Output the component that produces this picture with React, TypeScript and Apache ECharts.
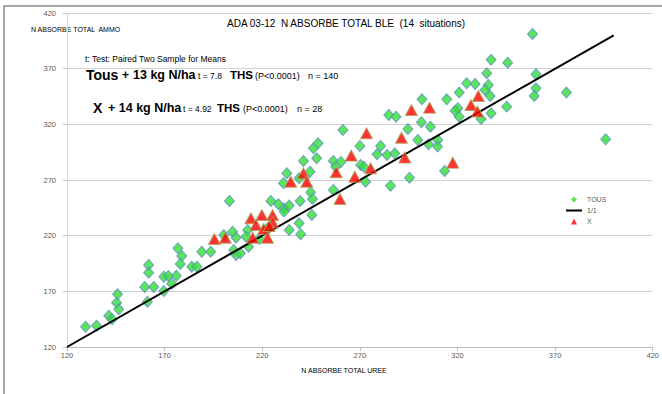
import React, { useEffect, useRef } from "react";
import * as echarts from "echarts";

// Axis ticks (N absorbé total, kg N/ha)
const xTicks = [120, 170, 220, 270, 320, 370, 420];
const yTicks = [120, 170, 220, 270, 320, 370, 420];

// TOUS situations: [N absorbé UREE, N absorbé AMMO]
const tous: [number, number][] = [
  [129.5, 138.2], [135.1, 139.1], [141.4, 148.1], [143.1, 144.9], [145.4, 159.8],
  [146.5, 153.9], [145.9, 167.3], [159.8, 173.9], [164.4, 173.9], [161.2, 160.7],
  [161.8, 193.7], [161.8, 186.8], [169.6, 183.2], [171.9, 183.8], [176.0, 184.1],
  [173.6, 176.9], [169.6, 170.3], [176.8, 208.7], [178.8, 201.8], [178.0, 194.6],
  [183.9, 192.1], [186.5, 192.1], [189.0, 205.6], [193.6, 205.6], [203.2, 251.2],
  [200.3, 220.6], [204.8, 223.6], [206.6, 218.2], [205.4, 207.2], [206.6, 202.7],
  [208.8, 204.2], [213.0, 210.1], [212.5, 225.1], [211.7, 219.1], [218.5, 217.0],
  [224.4, 251.2], [228.3, 248.2], [231.2, 244.6], [233.8, 247.0], [231.2, 241.6],
  [222.7, 226.6], [233.8, 225.1], [238.9, 231.1], [239.7, 221.3], [239.4, 251.2],
  [244.8, 259.0], [245.7, 253.0], [245.4, 238.6], [230.9, 267.1], [232.6, 276.1],
  [238.9, 271.6], [244.5, 277.5], [241.1, 287.1], [247.9, 289.5], [246.2, 298.5],
  [248.6, 303.0], [256.4, 287.1], [256.4, 261.1], [284.8, 328.4], [288.5, 326.9],
  [301.8, 342.5], [314.5, 342.5], [320.9, 348.5], [324.7, 356.9], [320.2, 334.5],
  [318.8, 332.3], [320.9, 326.9], [301.5, 321.9], [306.1, 317.9], [294.6, 315.9],
  [261.3, 315.0], [299.7, 306.0], [305.2, 302.1], [309.9, 306.0], [309.8, 300.0],
  [270.0, 300.6], [280.6, 300.6], [278.8, 293.1], [283.9, 292.5], [287.9, 294.0],
  [260.3, 286.2], [257.6, 282.0], [270.4, 283.5], [272.0, 282.0], [272.9, 268.5],
  [285.7, 264.9], [295.4, 272.1], [313.4, 278.1], [358.4, 401.2], [337.2, 377.9],
  [345.7, 375.4], [335.0, 365.9], [360.2, 365.0], [329.0, 356.3], [335.8, 355.4],
  [334.1, 350.9], [336.7, 345.5], [360.2, 352.4], [359.3, 345.5], [375.8, 348.5],
  [332.1, 324.9], [337.2, 330.0], [345.2, 335.9], [395.9, 306.6],
];

// X situations
const xSituations: [number, number][] = [
  [195.5, 217.0], [201.1, 218.2], [214.2, 235.6], [219.8, 238.6], [225.3, 238.6],
  [225.3, 232.0], [216.8, 229.6], [220.7, 226.0], [215.1, 218.2], [222.7, 218.2],
  [223.6, 228.7], [234.6, 268.5], [241.1, 276.1], [242.8, 268.5], [273.4, 312.0],
  [265.6, 291.9], [257.9, 277.0], [267.4, 273.0], [275.5, 280.6], [259.8, 253.0],
  [291.3, 308.0], [293.0, 290.1], [296.4, 332.9], [305.7, 335.0], [317.6, 285.6],
  [326.9, 337.4], [330.7, 345.5], [330.2, 331.6],
];

// 1/1 line
const oneToOne: [number, number][] = [[120, 120], [400, 400]];

const FONT = "'Liberation Sans', Arial, sans-serif";
const GREEN = "#33dd33";
const RED = "#ff0000";

export default function App() {
  const ref = useRef<HTMLDivElement>(null);

  useEffect(() => {
    if (!ref.current) return;
    const chart = echarts.init(ref.current, undefined, { renderer: "svg" });

    const txt = (x: number, y: number, text: string, size: number, bold = false, extra: any = {}) => ({
      type: "text",
      x,
      y,
      style: {
        text,
        fontSize: size,
        fontWeight: bold ? "bold" : "normal",
        fontFamily: FONT,
        fill: "#000",
        verticalAlign: "middle",
        align: "left",
        ...extra,
      },
      silent: true,
    });

    chart.setOption({
      animation: false,
      backgroundColor: "#fff",
      grid: { left: 67, right: 7, top: 13, bottom: 47, containLabel: false },
      legend: {
        orient: "vertical",
        left: 566,
        top: 196,
        itemWidth: 16,
        itemHeight: 6,
        itemGap: 4,
        padding: 0,
        symbolKeepAspect: true,
        data: [
          { name: "TOUS", icon: "path://M3,0 L6,3 L3,6 L0,3 Z", itemStyle: { color: GREEN, borderWidth: 0 } },
          { name: "1/1", icon: "path://M0,0 L16,0 L16,2 L0,2 Z", itemStyle: { color: "#000", borderWidth: 0 } },
          { name: "X", icon: "path://M3,0 L6,6 L0,6 Z", itemStyle: { color: RED, borderWidth: 0 } },
        ],
        textStyle: { fontSize: 7, color: "#595959", fontFamily: FONT },
      },
      xAxis: {
        type: "value",
        min: 120,
        max: 420,
        axisLine: { show: true, lineStyle: { color: "#bfbfbf", width: 1 } },
        axisTick: { show: true, customValues: xTicks, length: 4, lineStyle: { color: "#bfbfbf" } },
        axisLabel: {
          customValues: xTicks,
          fontSize: 7.5,
          color: "#595959",
          fontFamily: FONT,
          margin: 4,
        },
        splitLine: { show: false },
      },
      yAxis: {
        type: "value",
        min: 120,
        max: 420,
        axisLine: { show: true, lineStyle: { color: "#d9d9d9", width: 1 } },
        axisTick: { show: true, customValues: yTicks, length: 4, lineStyle: { color: "#bfbfbf" } },
        axisLabel: {
          customValues: yTicks,
          fontSize: 7.5,
          color: "#595959",
          fontFamily: FONT,
          margin: 11,
        },
        splitLine: { show: true, lineStyle: { color: "#d0d0d0", width: 1 } },
      },
      series: [
        {
          name: "TOUS",
          type: "scatter",
          data: tous,
          symbol: "diamond",
          symbolSize: [10, 11],
          itemStyle: { color: GREEN, borderColor: "#5b8fc9", borderWidth: 1 },
          z: 2,
        },
        {
          name: "1/1",
          type: "line",
          data: oneToOne,
          showSymbol: false,
          symbol: "none",
          lineStyle: { color: "#000", width: 2 },
          itemStyle: { color: "#000" },
          z: 3,
        },
        {
          name: "X",
          type: "scatter",
          data: xSituations,
          symbol: "triangle",
          symbolSize: [12, 11],
          itemStyle: { color: RED, borderColor: "#a3a855", borderWidth: 1 },
          z: 4,
        },
      ],
      graphic: [
        {
          type: "polyline",
          shape: { points: [[4, 394], [4, 6], [662, 6]] },
          style: { stroke: "#8c8c8c", lineWidth: 1.5, fill: "none" },
          silent: true,
        },
        txt(227, 23, "ADA 03-12  N ABSORBE TOTAL BLE  (14  situations)", 10),
        txt(31, 29, "N ABSORBE TOTAL  AMMO", 7),
        txt(344, 370, "N ABSORBE TOTAL UREE", 7, false, { align: "center" }),
        txt(85, 59, "t: Test: Paired Two Sample for Means", 8.5),
        txt(86, 75, "Tous", 14, true),
        txt(122, 75, "+", 12, true),
        txt(133, 75, "13 kg N/ha", 12.5, true),
        txt(198, 76, "t = 7.8", 8.5),
        txt(230, 75, "THS", 11.5, true),
        txt(255, 76, "(P<0.0001)", 9),
        txt(308, 76, "n = 140", 9),
        txt(93, 108, "X", 14, true),
        txt(108, 108, "+ 14 kg N/ha", 12.5, true),
        txt(183, 109, "t = 4.92", 8.5),
        txt(217, 108, "THS", 11.5, true),
        txt(243, 109, "(P<0.0001)", 9),
        txt(297, 109, "n = 28", 9),
      ],
    });

    return () => chart.dispose();
  }, []);

  return (
    <div
      ref={ref}
      style={{ position: "fixed", left: 0, top: 0, width: 662, height: 394, background: "#fff" }}
    />
  );
}
